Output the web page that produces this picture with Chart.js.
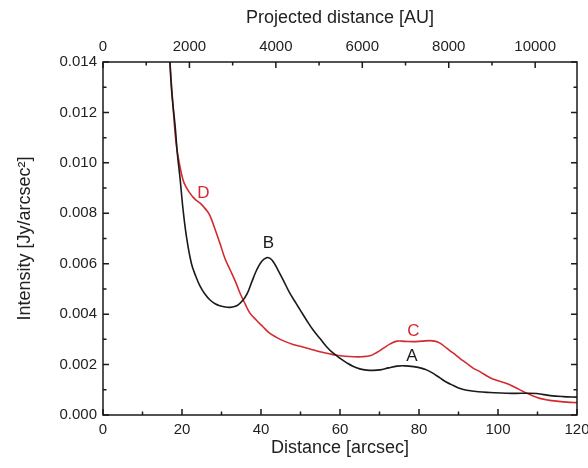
<!DOCTYPE html>
<html>
<head>
<meta charset="utf-8">
<script src="https://cdn.jsdelivr.net/npm/chart.js@4/dist/chart.umd.min.js"></script>
<style>
  body { margin: 0; background: #fff; }
  #wrap { width: 588px; height: 468px; }
</style>
</head>
<body>
<div id="wrap"><canvas id="profileChart" width="588" height="468"></canvas></div>
<script>
// profile A/B (black)
const abDist = [16.9, 17.4, 18.3, 18.8, 19.5, 20.3, 21.2, 22.4, 23.5, 24.6, 25.8, 27.1, 28.5, 29.6, 31.0, 32.2, 33.3, 34.3, 35.4, 36.4,
  37.6, 38.9, 40.2, 41.4, 42.2, 43.1, 44.3, 45.6, 47.3, 49.0, 49.9, 51.5, 53.2, 55.0, 56.6, 58.3, 60.0, 61.7, 63.4, 65.0,
  66.8, 68.5, 70.1, 72.3, 74.4, 76.5, 78.6, 80.3, 81.9, 83.6, 85.3, 87.0, 88.7, 90.4, 92.1, 95.0, 98.0, 102.2, 106.4, 109.8,
  113.2, 116.5, 120];
const abInt = [0.0141, 0.0128, 0.0114, 0.0104, 0.0094, 0.0081, 0.0070, 0.0060, 0.0055, 0.0051, 0.0048, 0.00456, 0.0044, 0.00433, 0.00428, 0.00427, 0.0043, 0.00438, 0.00455, 0.00478,
  0.00525, 0.00575, 0.0061, 0.00624, 0.00622, 0.00608, 0.00575, 0.00536, 0.00483, 0.0044, 0.00417, 0.00377, 0.00337, 0.00302, 0.00271, 0.00245, 0.00225, 0.00207, 0.00192, 0.00183,
  0.00178, 0.00177, 0.00179, 0.00187, 0.00194, 0.00195, 0.00192, 0.00187, 0.00179, 0.00165, 0.00147, 0.0013, 0.00117, 0.00105, 0.00098, 0.00092, 0.00089, 0.00086, 0.00086, 0.00085,
  0.00077, 0.00073, 0.00071];

// profile C/D (red)
const cdDist = [16.9, 17.8, 18.5, 19.3, 20.3, 21.2, 22.0, 22.9, 23.7, 24.6, 25.4, 26.3, 27.1, 28.3, 29.6, 30.9, 32.2, 33.5, 34.7, 36.0,
  37.2, 38.9, 40.5, 42.0, 43.9, 46.0, 48.1, 49.9, 52.4, 54.9, 57.0, 59.2, 61.3, 63.4, 65.5, 67.6, 69.3, 71.0, 72.7, 74.4,
  76.5, 78.6, 80.7, 82.8, 84.0, 85.3, 87.0, 88.7, 90.4, 92.1, 93.7, 95.4, 98.0, 100.0, 102.2, 104.3, 106.4, 108.5, 110.6, 112.8,
  114.9, 117.5, 120];
const cdInt = [0.0141, 0.0121, 0.0108, 0.01, 0.0093, 0.009, 0.0088, 0.00862, 0.0085, 0.0084, 0.00827, 0.0081, 0.0079, 0.0074, 0.00681, 0.0062, 0.00575, 0.0053, 0.00483, 0.0044,
  0.00404, 0.00375, 0.0035, 0.00327, 0.00308, 0.00292, 0.0028, 0.00273, 0.00262, 0.00251, 0.00244, 0.00237, 0.00233, 0.00231, 0.00231, 0.00235, 0.00248, 0.00265, 0.00282, 0.00293,
  0.00292, 0.00291, 0.00293, 0.00295, 0.00293, 0.00285, 0.00265, 0.00245, 0.00224, 0.00205, 0.00186, 0.00172, 0.00148, 0.00136, 0.00125, 0.0011, 0.00093, 0.00078, 0.00066, 0.00059,
  0.00055, 0.00051, 0.00049];

// feature labels
const featNames = ['A', 'B', 'C', 'D'];
const featDist = [78.2, 41.9, 78.6, 25.4];
const featInt = [0.00234, 0.00681, 0.00331, 0.0088];
const featColors = ['#1a1a1a', '#1a1a1a', '#d42a2f', '#d42a2f'];

// ticks
const distTicks = [0, 20, 40, 60, 80, 100, 120];
const distMinor = [10, 30, 50, 70, 90, 110];
const intTicks = [0, 0.002, 0.004, 0.006, 0.008, 0.010, 0.012, 0.014];
const intMinor = [0.001, 0.003, 0.005, 0.007, 0.009, 0.011, 0.013];
const auTicks = [0, 2000, 4000, 6000, 8000, 10000];
const auMinor = [1000, 3000, 5000, 7000, 9000];
const AU_PER_ARCSEC = 91.4;

const inkColor = '#1a1a1a';
const tickFont = { family: 'Liberation Sans, Arial, sans-serif', size: 15 };
const titleFont = { family: 'Liberation Sans, Arial, sans-serif', size: 18 };

function toPoints(xs, ys) {
  return xs.map((x, i) => ({ x: x, y: ys[i] }));
}

// horizontal axes: drop the extra room chart.js keeps for the end labels
function noSidePad(s) {
  s.paddingLeft = 0;
  s.paddingRight = 0;
}

// ticks drawn inward, like the original plot
const inwardTicks = {
  id: 'inwardTicks',
  afterDraw(chart) {
    const ctx = chart.ctx;
    const a = chart.chartArea;
    const { x, x2, y } = chart.scales;
    ctx.save();
    ctx.strokeStyle = inkColor;
    ctx.lineWidth = 1.5;
    ctx.beginPath();
    const vTick = (px, y0, len) => { ctx.moveTo(px, y0); ctx.lineTo(px, y0 + len); };
    const hTick = (py, x0, len) => { ctx.moveTo(x0, py); ctx.lineTo(x0 + len, py); };
    distTicks.forEach(v => vTick(x.getPixelForValue(v), a.bottom, -6));
    distMinor.forEach(v => vTick(x.getPixelForValue(v), a.bottom, -3.5));
    auTicks.forEach(v => vTick(x2.getPixelForValue(v), a.top, 6));
    auMinor.forEach(v => vTick(x2.getPixelForValue(v), a.top, 3.5));
    intTicks.forEach(v => { hTick(y.getPixelForValue(v), a.left, 6); hTick(y.getPixelForValue(v), a.right, -6); });
    intMinor.forEach(v => { hTick(y.getPixelForValue(v), a.left, 3.5); hTick(y.getPixelForValue(v), a.right, -3.5); });
    ctx.stroke();
    // frame
    ctx.strokeRect(a.left, a.top, a.right - a.left, a.bottom - a.top);
    ctx.restore();
  }
};

const featLabels = {
  id: 'featLabels',
  afterDatasetsDraw(chart) {
    const ctx = chart.ctx;
    const { x, y } = chart.scales;
    ctx.save();
    ctx.font = '17px Liberation Sans, Arial, sans-serif';
    ctx.textAlign = 'center';
    ctx.textBaseline = 'middle';
    featNames.forEach((n, i) => {
      ctx.fillStyle = featColors[i];
      ctx.fillText(n, x.getPixelForValue(featDist[i]), y.getPixelForValue(featInt[i]));
    });
    ctx.restore();
  }
};

new Chart(document.getElementById('profileChart'), {
  type: 'line',
  data: {
    datasets: [
      {
        label: 'A/B',
        data: toPoints(abDist, abInt),
        borderColor: inkColor,
        borderWidth: 1.6,
        pointRadius: 0,
        tension: 0.4,
        xAxisID: 'x',
        yAxisID: 'y'
      },
      {
        label: 'C/D',
        data: toPoints(cdDist, cdInt),
        borderColor: '#d42a2f',
        borderWidth: 1.6,
        pointRadius: 0,
        tension: 0.4,
        xAxisID: 'x',
        yAxisID: 'y'
      }
    ]
  },
  options: {
    responsive: false,
    animation: false,
    layout: { padding: 0 },
    plugins: { legend: { display: false }, tooltip: { enabled: false } },
    scales: {
      x: {
        type: 'linear',
        position: 'bottom',
        min: 0,
        max: 120,
        afterBuildTicks: s => { s.ticks = distTicks.map(v => ({ value: v })); },
        afterFit: s => { s.height = 53; noSidePad(s); },
        grid: { display: false, drawTicks: false },
        border: { display: false },
        ticks: { font: tickFont, color: '#222', padding: 6, maxRotation: 0 },
        title: { display: true, text: 'Distance [arcsec]', font: titleFont, color: '#222', padding: { top: 0, bottom: 9 } }
      },
      x2: {
        type: 'linear',
        position: 'top',
        min: 0,
        max: 120 * AU_PER_ARCSEC,
        afterBuildTicks: s => { s.ticks = auTicks.map(v => ({ value: v })); },
        afterFit: s => { s.height = 62; noSidePad(s); },
        grid: { display: false, drawTicks: false },
        border: { display: false },
        ticks: { font: tickFont, color: '#222', padding: 6, maxRotation: 0, callback: v => String(v) },
        title: { display: true, text: 'Projected distance [AU]', font: titleFont, color: '#222', padding: { top: 7, bottom: 0 } }
      },
      y: {
        type: 'linear',
        position: 'left',
        min: 0,
        max: 0.014,
        afterBuildTicks: s => { s.ticks = intTicks.map(v => ({ value: v })); },
        afterFit: s => { s.width = 103; },
        grid: { display: false, drawTicks: false },
        border: { display: false },
        ticks: { font: tickFont, color: '#222', padding: 6, callback: v => v.toFixed(3) },
        title: { display: true, text: 'Intensity [Jy/arcsec²]', font: titleFont, color: '#222', padding: { top: 14, bottom: 0 } }
      },
      y2: {
        type: 'linear',
        position: 'right',
        min: 0,
        max: 0.014,
        afterFit: s => { s.width = 11; },
        grid: { display: false, drawTicks: false },
        border: { display: false },
        ticks: { display: false }
      }
    }
  },
  plugins: [inwardTicks, featLabels]
});
</script>
</body>
</html>
